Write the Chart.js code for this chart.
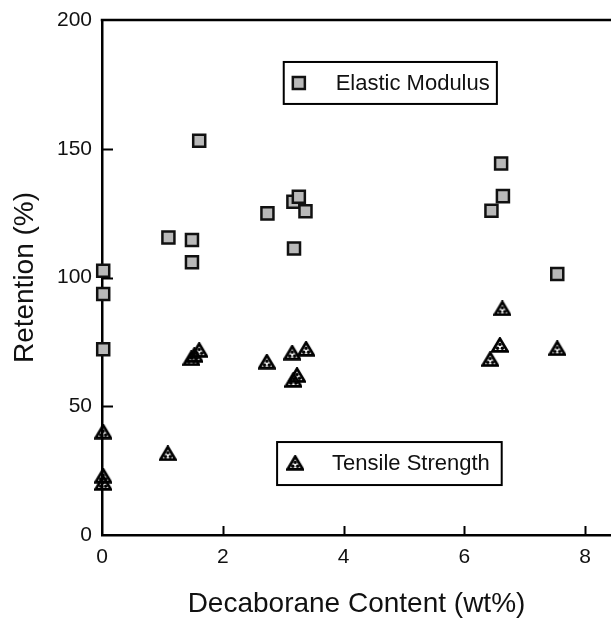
<!DOCTYPE html>
<html>
<head>
<meta charset="utf-8">
<script src="https://cdn.jsdelivr.net/npm/chart.js@4.4.1/dist/chart.umd.min.js"></script>
<style>
  html, body { margin: 0; padding: 0; background: #fff; overflow: hidden; }
  #wrap { width: 611px; height: 621px; overflow: hidden; }
  canvas { display: block; }
</style>
</head>
<body>
<div id="wrap"><canvas id="retChart"></canvas></div>
<script>
// values (x = wt% decaborane, y = retention %)
const modulusX = [0.02, 0.02, 0.02, 1.10, 1.49, 1.49, 1.61, 2.74, 3.17, 3.26, 3.37, 3.18, 6.45, 6.61, 6.64, 7.54];
const modulusY = [102.6, 93.6, 72.1, 115.5, 114.6, 105.9, 153.1, 124.9, 129.4, 131.4, 125.7, 111.3, 125.9, 144.3, 131.6, 101.4];

const tensileX = [0.02, 0.02, 0.02, 1.09, 1.48, 1.53, 1.61, 2.73, 3.15, 3.17, 3.23, 3.38, 6.43, 6.59, 6.63, 7.54];
const tensileY = [40.1, 23.0, 20.2, 31.7, 68.6, 69.9, 71.8, 67.3, 70.8, 60.2, 62.1, 72.3, 68.3, 73.8, 88.0, 72.5];

const xTicks = [0, 2, 4, 6, 8];
const yTicks = [0, 50, 100, 150, 200];

const seriesNames = ["Elastic Modulus", "Tensile Strength"];

const toPoints = (xs, ys) => xs.map((x, i) => ({ x: x, y: ys[i] }));

// triangle marker with dotted inside
function triangleMarker() {
  const c = document.createElement("canvas");
  c.width = 18;
  c.height = 16;
  const g = c.getContext("2d");
  g.strokeStyle = "#000";
  g.lineWidth = 2.8;
  g.lineJoin = "miter";
  g.beginPath();
  g.moveTo(9, 1.6);
  g.lineTo(16.6, 14.4);
  g.lineTo(1.4, 14.4);
  g.closePath();
  g.stroke();
  g.fillStyle = "#000";
  [[9, 7.4], [6.6, 11.3], [11.4, 11.3]].forEach(p => {
    g.beginPath();
    g.arc(p[0], p[1], 1.7, 0, Math.PI * 2);
    g.fill();
  });
  return c;
}
const triImg = triangleMarker();

// inward ticks, top frame line and boxed legends
const framePlugin = {
  id: "frame",
  afterDatasetsDraw(chart, args, opts) {
    const { ctx, chartArea, scales } = chart;
    const xs = scales.x, ys = scales.y;
    ctx.save();
    ctx.strokeStyle = "#000";

    ctx.lineWidth = 2.5;
    ctx.beginPath();
    ctx.moveTo(chartArea.left - 1.25, chartArea.top);
    ctx.lineTo(chartArea.right, chartArea.top);
    ctx.stroke();

    ctx.lineWidth = 2;
    ctx.beginPath();
    xTicks.forEach(v => {
      const px = Math.round(xs.getPixelForValue(v)) + 0.5;
      if (v === 0) return;
      ctx.moveTo(px, chartArea.bottom);
      ctx.lineTo(px, chartArea.bottom - 9);
    });
    yTicks.forEach(v => {
      const py = Math.round(ys.getPixelForValue(v)) + 0.5;
      if (v === 0 || v === 200) return;
      ctx.moveTo(chartArea.left, py);
      ctx.lineTo(chartArea.left + 11, py);
    });
    ctx.stroke();

    opts.boxes.forEach(b => {
      const x0 = xs.getPixelForValue(b.x0), x1 = xs.getPixelForValue(b.x1);
      const y0 = ys.getPixelForValue(b.y0), y1 = ys.getPixelForValue(b.y1);
      ctx.lineWidth = 2;
      ctx.strokeStyle = "#000";
      ctx.fillStyle = "#fff";
      ctx.fillRect(x0, y0, x1 - x0, y1 - y0);
      ctx.strokeRect(x0, y0, x1 - x0, y1 - y0);

      const ds = chart.data.datasets[b.dataset];
      const mx = xs.getPixelForValue(b.mx), my = ys.getPixelForValue(b.my);
      ctx.fillStyle = ds.backgroundColor;
      ctx.strokeStyle = ds.borderColor;
      ctx.lineWidth = ds.borderWidth;
      Chart.helpers.drawPoint(ctx, {
        pointStyle: ds.pointStyle, radius: ds.pointRadius, rotation: 0, borderWidth: ds.borderWidth
      }, mx, my);

      ctx.fillStyle = "#111";
      ctx.font = "22px 'Liberation Sans', Arial, sans-serif";
      ctx.textBaseline = "middle";
      ctx.textAlign = "left";
      ctx.fillText(ds.label, xs.getPixelForValue(b.tx), my + 1);
    });
    ctx.restore();
  }
};

new Chart(document.getElementById("retChart"), {
  type: "scatter",
  data: {
    datasets: [
      {
        label: seriesNames[0],
        data: toPoints(modulusX, modulusY),
        pointStyle: "rect",
        pointRadius: 8.5,
        pointHoverRadius: 8.5,
        backgroundColor: "#b9b9b9",
        borderColor: "#111",
        borderWidth: 2.5,
        clip: false
      },
      {
        label: seriesNames[1],
        data: toPoints(tensileX, tensileY),
        pointStyle: triImg,
        pointRadius: 8,
        pointHoverRadius: 8,
        backgroundColor: "#fff",
        borderColor: "#111",
        borderWidth: 0,
        clip: false
      }
    ]
  },
  options: {
    responsive: true,
    maintainAspectRatio: false,
    animation: false,
    layout: { autoPadding: false, padding: { top: 20, right: 0, left: 0, bottom: 0 } },
    plugins: {
      legend: { display: false },
      tooltip: { enabled: false },
      frame: {
        boxes: [
          { dataset: 0, x0: 3.01, x1: 6.54, y0: 183.7, y1: 167.4, mx: 3.26, my: 175.5, tx: 3.87 },
          { dataset: 1, x0: 2.90, x1: 6.62, y0: 36.1, y1: 19.4, mx: 3.20, my: 28.0, tx: 3.81 }
        ]
      }
    },
    scales: {
      x: {
        type: "linear",
        min: 0,
        max: 8.43,
        afterFit: s => { s.height = 86; s.paddingLeft = 0; s.paddingRight = 0; },
        afterBuildTicks: s => { s.ticks = xTicks.map(v => ({ value: v })); },
        grid: { display: true, drawOnChartArea: false, drawTicks: false },
        border: { display: true, color: "#000", width: 2.5 },
        ticks: {
          padding: 10,
          color: "#111",
          font: { family: "'Liberation Sans', Arial, sans-serif", size: 21 }
        },
        title: {
          display: true,
          text: "Decaborane Content (wt%)",
          color: "#111",
          padding: { top: 0, bottom: 0 },
          font: { family: "'Liberation Sans', Arial, sans-serif", size: 28 }
        }
      },
      y: {
        type: "linear",
        min: 0,
        max: 200,
        afterFit: s => { s.width = 102; s.paddingTop = 0; s.paddingBottom = 0; },
        afterBuildTicks: s => { s.ticks = yTicks.map(v => ({ value: v })); },
        grid: { display: true, drawOnChartArea: false, drawTicks: false },
        border: { display: true, color: "#000", width: 2.5 },
        ticks: {
          padding: 10,
          color: "#111",
          font: { family: "'Liberation Sans', Arial, sans-serif", size: 21 }
        },
        title: {
          display: true,
          text: "Retention (%)",
          color: "#111",
          padding: { top: 8, bottom: 0 },
          font: { family: "'Liberation Sans', Arial, sans-serif", size: 28 }
        }
      }
    }
  },
  plugins: [framePlugin]
});
</script>
</body>
</html>
